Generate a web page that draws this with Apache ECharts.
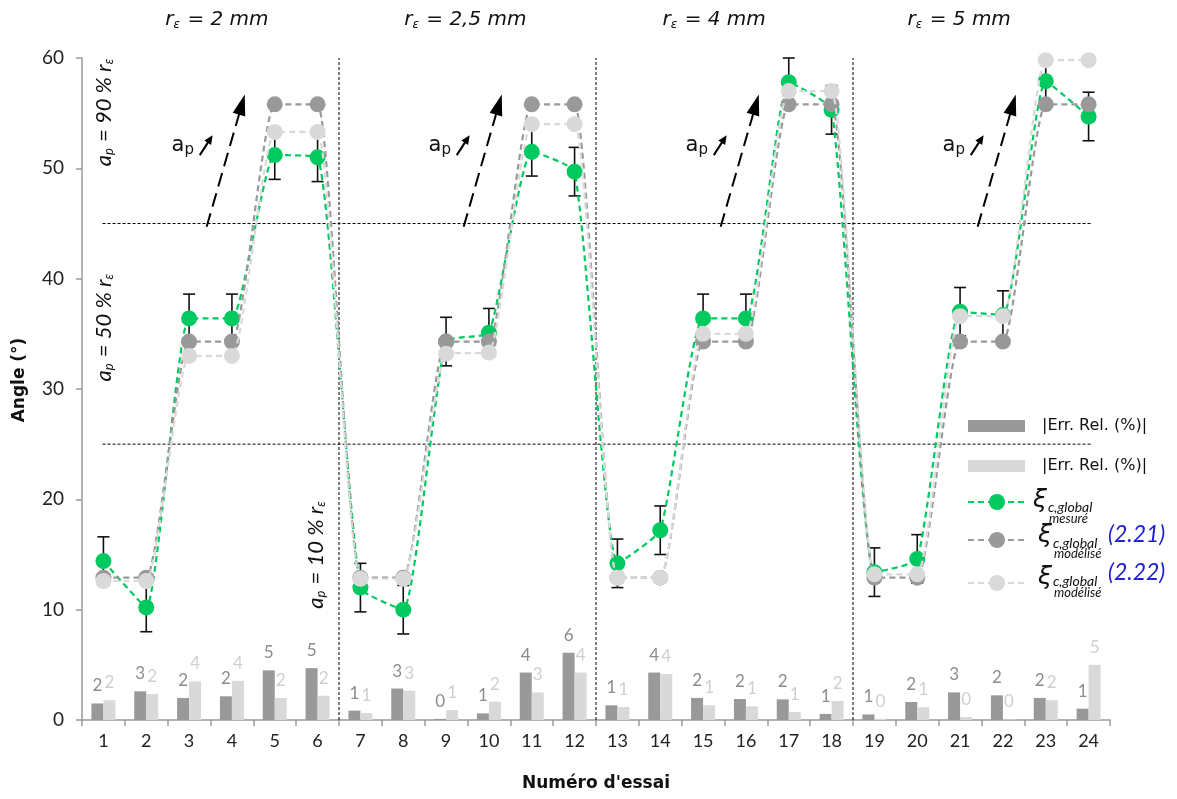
<!DOCTYPE html>
<html><head><meta charset="utf-8">
<script src="https://cdn.jsdelivr.net/npm/echarts@6/dist/echarts.min.js"></script>
<style>html,body{margin:0;padding:0;background:#fff}#c{width:1177px;height:799px}</style>
</head><body><div id="c"></div>
<script>
const categories = ['1','2','3','4','5','6','7','8','9','10','11','12','13','14','15','16','17','18','19','20','21','22','23','24'];
const yTicks = [0, 10, 20, 30, 40, 50, 60];
const measured = [14.4,10.2,36.4,36.4,51.2,51.0, 12.0,10.0,34.3,35.1,51.5,49.7, 14.2,17.2,36.4,36.4,57.8,55.3, 13.4,14.6,37.0,36.7,57.9,54.7];
const measuredErr = [2.2,2.2,2.2,2.2,2.2,2.2, 2.2,2.2,2.2,2.2,2.2,2.2, 2.2,2.2,2.2,2.2,2.2,2.2, 2.2,2.2,2.2,2.2,2.2,2.2];
const model221 = [12.9,12.9,34.3,34.3,55.8,55.8, 12.9,12.9,34.3,34.3,55.8,55.8, 12.9,12.9,34.3,34.3,55.8,55.8, 12.9,12.9,34.3,34.3,55.8,55.8];
const model222 = [12.6,12.6,33.0,33.0,53.3,53.3, 12.8,12.8,33.2,33.3,54.0,54.0, 12.9,12.9,35.0,35.0,57.0,57.0, 13.2,13.2,36.6,36.6,59.8,59.8];
const errRel221 = [1.5,2.6,2.0,2.15,4.5,4.7, 0.85,2.85,0.1,0.6,4.3,6.1, 1.33,4.3,2.0,1.9,1.87,0.55, 0.5,1.63,2.5,2.24,2.0,1.03];
const errRel222 = [1.8,2.35,3.5,3.55,2.0,2.2, 0.63,2.65,0.9,1.66,2.5,4.3, 1.18,4.17,1.33,1.24,0.73,1.72, 0.1,1.15,0.27,0.05,1.8,5.0];
const groupTitles = ['2 mm', '2,5 mm', '4 mm', '5 mm'];
const apLevels = ['90', '50', '10'];

const FONT = 'Lato, "DejaVu Sans", sans-serif';
const WFONT = '"DejaVu Sans", sans-serif';
const GREEN = '#00c95f', DARK = '#999999', LIGHT = '#d9d9d9';

const chart = echarts.init(document.getElementById('c'), null, {renderer: 'canvas'});

const lineSeries = (name, data, color, z) => ({
  name, type: 'line', data, z,
  smooth: 0.15,
  symbol: 'circle', symbolSize: 16, showSymbol: true,
  itemStyle: {color},
  lineStyle: {color, width: 2.2, type: [6, 4]},
  emphasis: {disabled: true}
});

const option = {
  animation: false,
  backgroundColor: '#fff',
  textStyle: {fontFamily: FONT},
  grid: {left: 82, right: 67, top: 58, bottom: 79, containLabel: false, outerBoundsMode: 'none'},
  xAxis: {
    type: 'category', data: categories,
    name: "Numéro d'essai", nameLocation: 'middle', nameGap: 55,
    nameTextStyle: {fontSize: 17, fontWeight: 'bold', color: '#111', fontFamily: WFONT},
    axisLine: {lineStyle: {color: '#999', width: 1.5}},
    axisTick: {show: true, interval: 0, length: 6, lineStyle: {color: '#999', width: 1.5}},
    axisLabel: {fontSize: 18, color: '#222', margin: 12, interval: 0, fontFamily: FONT},
    splitLine: {show: false}
  },
  yAxis: {
    type: 'value', min: yTicks[0], max: yTicks[yTicks.length - 1], interval: 10,
    name: 'Angle (°)', nameLocation: 'middle', nameGap: 54,
    nameTextStyle: {fontSize: 17, fontWeight: 'bold', color: '#111', fontFamily: WFONT, padding: [0, 0, 0, 18]},
    axisLine: {show: true, lineStyle: {color: '#999', width: 1.5}},
    axisTick: {show: true, length: 6, lineStyle: {color: '#999', width: 1.5}},
    axisLabel: {fontSize: 19, color: '#222', margin: 18, fontFamily: FONT},
    splitLine: {show: false}
  },
  series: [
    {
      name: '|Err. Rel. (%)| 2.21', type: 'bar', data: errRel221, barWidth: 12, barGap: '0%', z: 2,
      itemStyle: {color: DARK},
      label: {show: true, position: 'top', distance: 9, color: '#8c8c8c', fontSize: 17, fontFamily: FONT,
        formatter: p => String(Math.round(p.value))}
    },
    {
      name: '|Err. Rel. (%)| 2.22', type: 'bar', data: errRel222, barWidth: 12, barGap: '0%', z: 2,
      itemStyle: {color: LIGHT},
      label: {show: true, position: 'top', distance: 9, color: '#cfcfcf', fontSize: 17, fontFamily: FONT,
        formatter: p => String(Math.round(p.value))}
    },
    {
      name: 'errorbars', type: 'custom', z: 3,
      encode: {x: 0, y: 1},
      data: measured.map((v, i) => [i, v, measuredErr[i]]),
      renderItem: (params, api) => {
        const i = api.value(0), v = api.value(1), e = api.value(2);
        const t = api.coord([i, v + e]), b = api.coord([i, v - e]);
        const hw = 6, st = {stroke: '#111', lineWidth: 1.6};
        return {type: 'group', children: [
          {type: 'line', shape: {x1: t[0], y1: t[1], x2: b[0], y2: b[1]}, style: st},
          {type: 'line', shape: {x1: t[0] - hw, y1: t[1], x2: t[0] + hw, y2: t[1]}, style: st},
          {type: 'line', shape: {x1: b[0] - hw, y1: b[1], x2: b[0] + hw, y2: b[1]}, style: st}
        ]};
      }
    },
    lineSeries('ξ mesuré', measured, GREEN, 4),
    lineSeries('ξ modélisé (2.21)', model221, DARK, 5),
    lineSeries('ξ modélisé (2.22)', model222, LIGHT, 6)
  ]
};
chart.setOption(option);

function px(xi, yv) {
  const x0 = chart.convertToPixel({xAxisIndex: 0}, categories[0]);
  const x1 = chart.convertToPixel({xAxisIndex: 0}, categories[1]);
  const y = chart.convertToPixel({yAxisIndex: 0}, yv);
  return [x0 + xi * (x1 - x0), y];
}
function arrow(p0, p1, headLen, headW, dash, lw) {
  const dx = p1[0] - p0[0], dy = p1[1] - p0[1];
  const L = Math.hypot(dx, dy), ux = dx / L, uy = dy / L;
  const bx = p1[0] - ux * headLen, by = p1[1] - uy * headLen;
  const nx = -uy, ny = ux;
  return [
    {type: 'line', z: 50, shape: {x1: p0[0], y1: p0[1], x2: bx + ux * 2, y2: by + uy * 2},
      style: {stroke: '#000', lineWidth: lw, lineDash: dash}},
    {type: 'polygon', z: 50, shape: {points: [[p1[0], p1[1]], [bx + nx * headW / 2, by + ny * headW / 2], [bx - nx * headW / 2, by - ny * headW / 2]]},
      style: {fill: '#000'}}
  ];
}
const g = [];
const dotted = {stroke: '#000', lineWidth: 1, lineDash: [3, 2]};
[25, 45].forEach(v => {
  const a = px(-0.02, v), b = px(23.09, v);
  g.push({type: 'line', z: 1, shape: {x1: a[0], y1: a[1], x2: b[0], y2: b[1]}, style: dotted});
});
[5.5, 11.5, 17.5].forEach(xi => {
  const a = px(xi, 0), b = px(xi, 60);
  g.push({type: 'line', z: 1, shape: {x1: a[0], y1: a[1], x2: b[0], y2: b[1]}, style: dotted});
});
const titlePos = [2.65, 8.45, 14.26, 19.98];
groupTitles.forEach((t, k) => {
  const p = px(titlePos[k], 60);
  g.push({type: 'text', x: p[0], y: 20, z: 50, style: {
    text: '{i|r}{s|ε}{i| = ' + t + '}', align: 'center', verticalAlign: 'middle', fill: '#111',
    rich: {i: {fontSize: 20, fontStyle: 'italic', fontFamily: WFONT, fill: '#111'},
           s: {fontSize: 12, fontStyle: 'italic', fontFamily: WFONT, fill: '#111', padding: [9, 1, 0, 0]}}
  }});
});
const apPos = [[0.02, 55.1], [0.02, 35.6], [4.96, 15.0]];
apLevels.forEach((lv, k) => {
  const p = px(apPos[k][0], apPos[k][1]);
  g.push({type: 'text', x: p[0], y: p[1], rotation: Math.PI / 2, z: 50, style: {
    text: '{i|a}{s|p}{i| = ' + lv + ' % r}{s|ε}', align: 'center', verticalAlign: 'middle', fill: '#111',
    rich: {i: {fontSize: 22, fontStyle: 'italic', fontFamily: FONT, fill: '#111'},
           s: {fontSize: 13, fontStyle: 'italic', fontFamily: FONT, fill: '#111', padding: [10, 1, 0, 0]}}
  }});
});
for (let k = 0; k < 4; k++) {
  const b = 6 * k;
  g.push(...arrow(px(b + 2.41, 44.7), px(b + 3.30, 56.7), 21, 13, [14, 7], 2));
  g.push(...arrow(px(b + 2.25, 51.2), px(b + 2.55, 53.0), 9, 8, null, 2));
  const t = px(b + 1.59, 52.1);
  g.push({type: 'text', x: t[0], y: t[1], z: 50, style: {
    text: '{a|a}{p|p}', align: 'left', verticalAlign: 'middle', fill: '#111',
    rich: {a: {fontSize: 21, fontFamily: WFONT, fill: '#111'},
           p: {fontSize: 15, fontFamily: WFONT, fill: '#111', padding: [10, 0, 0, 0]}}
  }});
}
const legText = {fontSize: 16, fontFamily: WFONT, fill: '#111'};
g.push({type: 'rect', shape: {x: 968, y: 420, width: 57, height: 12}, style: {fill: DARK}});
g.push({type: 'text', x: 1042, y: 426, style: Object.assign({text: '|Err. Rel. (%)|', verticalAlign: 'middle'}, legText)});
g.push({type: 'rect', shape: {x: 968, y: 460, width: 57, height: 12}, style: {fill: LIGHT}});
g.push({type: 'text', x: 1042, y: 466, style: Object.assign({text: '|Err. Rel. (%)|', verticalAlign: 'middle'}, legText)});
const legLines = [
  {y: 502, color: GREEN, sub: 'mesuré', xi: 1033, dy: [-2, 5, 17], ref: null},
  {y: 540, color: DARK, sub: 'modélisé', xi: 1038, dy: [-5, 3, 14], ref: '(2.21)', ry: 535},
  {y: 583, color: LIGHT, sub: 'modélisé', xi: 1038, dy: [-6, -2, 10], ref: '(2.22)', ry: 573}
];
legLines.forEach(l => {
  g.push({type: 'line', shape: {x1: 968, y1: l.y, x2: 1024, y2: l.y}, style: {stroke: l.color, lineWidth: 2.2, lineDash: [6, 4]}});
  g.push({type: 'circle', shape: {cx: 997, cy: l.y, r: 8}, style: {fill: l.color}});
  g.push({type: 'text', x: l.xi, y: l.y + l.dy[0], style: {text: 'ξ', fontSize: 25, fontStyle: 'italic', fontFamily: WFONT, fill: '#111', verticalAlign: 'middle'}});
  g.push({type: 'text', x: l.xi + 15, y: l.y + l.dy[1], style: {text: 'c,global', fontSize: 14, fontStyle: 'italic', fontFamily: FONT, fill: '#111', verticalAlign: 'middle'}});
  g.push({type: 'text', x: l.xi + 16, y: l.y + l.dy[2], style: {text: l.sub, fontSize: 13, fontStyle: 'italic', fontFamily: FONT, fill: '#111', verticalAlign: 'middle'}});
  if (l.ref) g.push({type: 'text', x: 1108, y: l.ry, style: {text: l.ref, fontSize: 23, fontStyle: 'italic', fontFamily: FONT, fill: '#1f1fd0', verticalAlign: 'middle'}});
});
chart.setOption({graphic: g});
</script>
</body></html>
